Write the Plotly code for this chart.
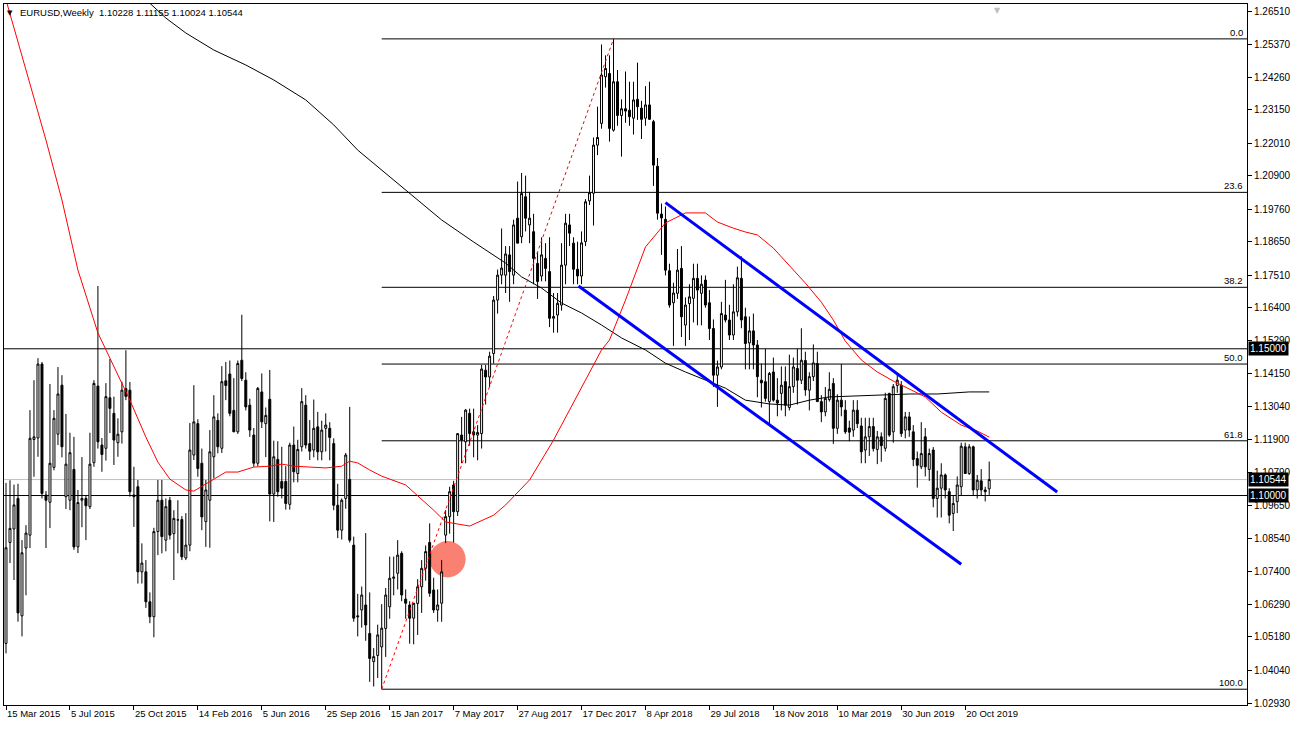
import numpy as np
import pandas as pd
import plotly.graph_objects as go

# ---------------- data ----------------
header_text = "EURUSD,Weekly  1.10228 1.11155 1.10024 1.10544"
first_week = "2015-03-15"

open_ = [1.0496,1.0840,1.0886,1.0990,1.0590,1.0821,1.0865,1.1191,1.1196,1.1448,
 1.1002,1.0977,1.1096,1.1209,1.1376,1.0996,1.0984,1.1089,1.0825,1.0984,
 1.0990,1.0962,1.1112,1.1373,1.1172,1.1161,1.1333,1.1280,1.1180,1.1217,
 1.1364,1.1359,1.1002,1.1030,1.0740,1.0740,1.0638,1.0587,1.0877,1.0984,
 1.0848,1.0984,1.0870,1.0917,1.0918,1.0787,1.0831,1.1138,1.1245,1.1110,
 1.0911,1.0984,1.1132,1.1256,1.1161,1.1391,1.1414,1.1290,1.1217,1.1461,
 1.1393,1.1308,1.1206,1.1110,1.1353,1.1245,1.1328,1.1005,1.1123,1.1048,
 1.1048,1.0970,1.1172,1.1075,1.1166,1.1308,1.1177,1.1155,1.1234,1.1149,
 1.1229,1.1229,1.1177,1.0967,1.0882,1.0990,1.1055,1.0831,1.0590,1.0610,
 1.0627,1.0530,1.0434,1.0455,1.0484,1.0547,1.0621,1.0718,1.0735,1.0803,
 1.0647,1.0627,1.0582,1.0632,1.0689,1.0752,1.0840,1.0678,1.0610,1.0633,
 1.0865,1.0928,1.1036,1.0945,1.1206,1.1183,1.1280,1.1217,1.1206,1.1211,
 1.1427,1.1404,1.1484,1.1666,1.1751,1.1751,1.1820,1.1751,1.1945,1.1882,
 1.2018,1.1922,1.1899,1.1791,1.1748,1.1808,1.1763,1.1604,1.1615,1.1649,
 1.1785,1.1922,1.1860,1.1771,1.1748,1.1865,1.2004,1.2030,1.2194,1.2268,
 1.2427,1.2438,1.2245,1.2410,1.2295,1.2318,1.2313,1.2286,1.2350,1.2320,
 1.2286,1.2331,1.2274,1.2122,1.1959,1.1941,1.1766,1.1657,1.1689,1.1774,
 1.1581,1.1654,1.1672,1.1740,1.1689,1.1734,1.1657,1.1569,1.1410,1.1438,
 1.1615,1.1598,1.1547,1.1626,1.1740,1.1609,1.1520,1.1561,1.1513,1.1393,
 1.1388,1.1320,1.1421,1.1325,1.1348,1.1388,1.1300,1.1371,1.1433,1.1393,
 1.1460,1.1359,1.1405,1.1450,1.1320,1.1285,1.1327,1.1382,1.1229,1.1325,
 1.1291,1.1230,1.1223,1.1291,1.1237,1.1155,1.1200,1.1235,1.1157,1.1200,
 1.1161,1.1348,1.1217,1.1375,1.1376,1.1223,1.1268,1.1217,1.1126,1.1098,
 1.1200,1.1089,1.1155,1.0990,1.1025,1.1070,1.1013,1.0939,1.0979,1.1030,
 1.1166,1.1075,1.1166,1.1019,1.1050,1.1019,1.10228]

high_ = [1.1043,1.1052,1.1037,1.1040,1.0848,1.0899,1.1291,1.1393,1.1468,1.1455,
 1.1015,1.1380,1.1291,1.1438,1.1410,1.1278,1.1214,1.1200,1.1019,1.1131,
 1.1002,1.1214,1.1393,1.1714,1.1196,1.1383,1.1465,1.1337,1.1263,1.1388,
 1.1495,1.1387,1.1098,1.1053,1.0837,1.0780,1.0670,1.0890,1.1053,1.1053,
 1.0990,1.0995,1.0950,1.0984,1.0930,1.0940,1.1247,1.1376,1.1260,1.1160,
 1.1053,1.1223,1.1342,1.1280,1.1441,1.1455,1.1460,1.1400,1.1460,1.1616,
 1.1420,1.1330,1.1230,1.1370,1.1416,1.1300,1.1428,1.1187,1.1185,1.1166,
 1.1100,1.1180,1.1235,1.1190,1.1366,1.1342,1.1257,1.1327,1.1285,1.1255,
 1.1280,1.1250,1.1195,1.1040,1.0990,1.1145,1.1302,1.0860,1.0665,1.0690,
 1.0872,1.0670,1.0480,1.0560,1.0630,1.0685,1.0792,1.0792,1.0848,1.0810,
 1.0680,1.0640,1.0630,1.0715,1.0780,1.0830,1.0905,1.0720,1.0680,1.0780,
 1.0950,1.1030,1.1050,1.1211,1.1268,1.1295,1.1296,1.1296,1.1240,1.1445,
 1.1445,1.1490,1.1680,1.1770,1.1910,1.1850,1.1850,1.1940,1.2070,1.2099,
 1.2090,1.2035,1.1960,1.1830,1.1880,1.1860,1.1880,1.1690,1.1690,1.1860,
 1.1960,1.1960,1.1880,1.1865,1.1900,1.2010,1.2090,1.2220,1.2325,1.2537,
 1.2500,1.2500,1.2556,1.2450,1.2350,1.2445,1.2410,1.2410,1.2475,1.2345,
 1.2395,1.2410,1.2280,1.2150,1.1995,1.1985,1.1790,1.1725,1.1840,1.1850,
 1.1675,1.1720,1.1790,1.1790,1.1750,1.1750,1.1700,1.1600,1.1460,1.1660,
 1.1735,1.1650,1.1720,1.1780,1.1815,1.1640,1.1610,1.1620,1.1530,1.1450,
 1.1500,1.1421,1.1470,1.1400,1.1440,1.1440,1.1480,1.1470,1.1500,1.1570,
 1.1490,1.1420,1.1515,1.1490,1.1342,1.1370,1.1420,1.1400,1.1345,1.1448,
 1.1325,1.1255,1.1325,1.1325,1.1265,1.1265,1.1265,1.1265,1.1220,1.1215,
 1.1350,1.1350,1.1380,1.1412,1.1390,1.1285,1.1285,1.1240,1.1150,1.1250,
 1.1230,1.1160,1.1165,1.1085,1.1110,1.1075,1.1025,1.1000,1.1065,1.1180,
 1.1180,1.1175,1.1170,1.1070,1.1090,1.1030,1.11155]

low_ = [1.0462,1.0770,1.0712,1.0570,1.0520,1.0660,1.0821,1.1064,1.1132,1.0990,
 1.0821,1.0889,1.1086,1.1172,1.1130,1.0954,1.0950,1.0815,1.0804,1.0892,
 1.0848,1.0954,1.1098,1.1160,1.1081,1.1119,1.1213,1.1104,1.1132,1.1177,
 1.1325,1.0996,1.0893,1.0700,1.0700,1.0617,1.0565,1.0517,1.0797,1.0803,
 1.0810,1.0850,1.0712,1.0803,1.0780,1.0780,1.0810,1.1121,1.1064,1.0882,
 1.0825,1.0822,1.1058,1.1144,1.1145,1.1325,1.1270,1.1217,1.1210,1.1390,
 1.1290,1.1200,1.1098,1.1100,1.1230,1.1131,1.0912,1.0910,1.0996,1.0990,
 1.0952,1.0952,1.1045,1.1045,1.1150,1.1160,1.1121,1.1130,1.1120,1.1120,
 1.1150,1.1120,1.0950,1.0855,1.0850,1.0955,1.0840,1.0570,1.0520,1.0550,
 1.0505,1.0365,1.0349,1.0378,1.0340,1.0450,1.0580,1.0660,1.0680,1.0640,
 1.0580,1.0495,1.0493,1.0525,1.0600,1.0710,1.0655,1.0600,1.0570,1.0570,
 1.0838,1.0870,1.0840,1.0930,1.1110,1.1110,1.1170,1.1130,1.1120,1.1160,
 1.1310,1.1370,1.1450,1.1620,1.1720,1.1690,1.1660,1.1720,1.1860,1.1860,
 1.1900,1.1860,1.1720,1.1670,1.1730,1.1730,1.1574,1.1555,1.1555,1.1630,
 1.1720,1.1850,1.1720,1.1720,1.1720,1.1850,1.1990,1.1920,1.2160,1.2250,
 1.2390,1.2206,1.2240,1.2260,1.2155,1.2270,1.2260,1.2230,1.2280,1.2215,
 1.2260,1.2280,1.2055,1.1940,1.1820,1.1750,1.1640,1.1510,1.1670,1.1540,
 1.1510,1.1530,1.1590,1.1580,1.1580,1.1640,1.1530,1.1370,1.1302,1.1430,
 1.1590,1.1530,1.1530,1.1610,1.1570,1.1430,1.1430,1.1430,1.1335,1.1300,
 1.1320,1.1240,1.1320,1.1270,1.1290,1.1270,1.1290,1.1350,1.1310,1.1380,
 1.1340,1.1290,1.1390,1.1320,1.1250,1.1270,1.1320,1.1176,1.1210,1.1270,
 1.1210,1.1185,1.1200,1.1230,1.1110,1.1110,1.1135,1.1150,1.1107,1.1115,
 1.1150,1.1200,1.1180,1.1350,1.1200,1.1195,1.1200,1.1100,1.1027,1.1090,
 1.1065,1.1050,1.0960,1.0925,1.0925,1.0990,1.0905,1.0879,1.0940,1.1000,
 1.1075,1.1070,1.1000,1.0990,1.1000,1.0980,1.10024]

close_ = [1.0822,1.0888,1.0968,1.0600,1.0805,1.0872,1.1195,1.1200,1.1448,1.1007,
 1.0984,1.1110,1.1263,1.1346,1.1166,1.1107,1.1146,1.0825,1.0976,1.0990,
 1.0965,1.1107,1.1382,1.1183,1.1140,1.1337,1.1297,1.1189,1.1209,1.1359,
 1.1338,1.1013,1.0996,1.0740,1.0770,1.0638,1.0587,1.0877,1.0984,1.0860,
 1.0962,1.0865,1.0922,1.0917,1.0791,1.0831,1.1155,1.1251,1.1092,1.0927,
 1.1019,1.1149,1.1268,1.1166,1.1388,1.1375,1.1280,1.1217,1.1450,1.1399,
 1.1302,1.1223,1.1110,1.1365,1.1251,1.1273,1.1005,1.1132,1.1013,1.1025,
 1.0973,1.1172,1.1081,1.1157,1.1320,1.1172,1.1151,1.1229,1.1149,1.1223,
 1.1240,1.1198,1.0967,1.0882,1.0984,1.1138,1.0848,1.0582,1.0587,1.0661,
 1.0559,1.0445,1.0451,1.0525,1.0548,1.0661,1.0718,1.0722,1.0797,1.0661,
 1.0633,1.0582,1.0633,1.0689,1.0752,1.0809,1.0667,1.0610,1.0627,1.0740,
 1.0928,1.1013,1.0945,1.1211,1.1189,1.1291,1.1211,1.1206,1.1215,1.1431,
 1.1404,1.1475,1.1666,1.1751,1.1775,1.1823,1.1763,1.1922,1.1860,1.2029,
 1.1945,1.1945,1.1808,1.1729,1.1820,1.1774,1.1604,1.1610,1.1655,1.1785,
 1.1928,1.1894,1.1771,1.1748,1.1861,1.2001,1.2032,1.2194,1.2220,1.2433,
 1.2455,1.2251,1.2410,1.2295,1.2318,1.2310,1.2291,1.2348,1.2325,1.2282,
 1.2331,1.2282,1.2126,1.1962,1.1946,1.1768,1.1649,1.1690,1.1768,1.1609,
 1.1649,1.1677,1.1740,1.1700,1.1720,1.1649,1.1569,1.1410,1.1438,1.1620,
 1.1598,1.1547,1.1626,1.1742,1.1598,1.1518,1.1561,1.1513,1.1405,1.1384,
 1.1331,1.1416,1.1325,1.1315,1.1376,1.1308,1.1371,1.1438,1.1393,1.1461,
 1.1360,1.1405,1.1452,1.1320,1.1285,1.1331,1.1362,1.1229,1.1325,1.1302,
 1.1217,1.1216,1.1291,1.1245,1.1149,1.1200,1.1235,1.1160,1.1200,1.1170,
 1.1331,1.1206,1.1371,1.1393,1.1211,1.1268,1.1223,1.1123,1.1103,1.1143,
 1.1098,1.1143,1.0990,1.1025,1.1070,1.1019,1.0933,1.0973,1.1036,1.1168,
 1.1075,1.1166,1.1019,1.1052,1.1019,1.1013,1.10544]

# moving averages (week index, price)
red_ma_week = [0,5,10,14,18,23,26,31,35,38,41,45,47,50,55,58,62,66,69,72,80,84,86,88,91,94,
               100,107,110,116,122,125,131,137,143,149,151,155,160,165,170,175,178,182,185,
               188,192,196,200,204,207,210,214,218,222,230,234,239,243,246]
red_ma_val = [1.2689,1.2450,1.2211,1.2007,1.1768,1.1554,1.1468,1.1325,1.1199,1.1114,1.1056,
              1.1019,1.1015,1.1039,1.1080,1.1080,1.1097,1.1100,1.1107,1.1100,1.1094,1.1100,
              1.1117,1.1111,1.1087,1.1066,1.1036,1.0950,1.0910,1.0896,1.0933,1.0968,1.1053,
              1.1189,1.1342,1.1496,1.1530,1.1666,1.1847,1.1929,1.1963,1.1963,1.1932,1.1911,
              1.1898,1.1888,1.1843,1.1785,1.1724,1.1659,1.1598,1.1526,1.1462,1.1421,1.1390,
              1.1336,1.1284,1.1240,1.1220,1.1199]
black_ma_week = [35,40,45,52,60,67,75,82,88,94,101,109,117,125,129,134,139,144,149,154,160,
                 165,170,175,180,185,188,191,196,201,206,211,218,226,233,236,241,246]
black_ma_val = [1.2690,1.2627,1.2576,1.2518,1.2467,1.2416,1.2348,1.2263,1.2177,1.2109,1.2031,
                1.1939,1.1864,1.1792,1.1745,1.1707,1.1656,1.1622,1.1581,1.1537,1.1496,1.1451,
                1.1421,1.1394,1.1366,1.1325,1.1319,1.1312,1.1308,1.1325,1.1336,1.1339,1.1342,
                1.1346,1.1346,1.1349,1.1353,1.1353]

# drawn objects (week index, price)
channel_upper = [(165, 1.1998), (263, 1.1012)]
channel_lower = [(143.25, 1.1714), (239, 1.0766)]
fib_low_week, fib_low = 94, 1.0340
fib_high_week, fib_high = 152, 1.2556
fib_levels = [0.0, 23.6, 38.2, 50.0, 61.8, 100.0]
marker_circle = (110.5, 1.0783)
hlines = [1.15000, 1.10000]
bid_price = 1.10544

y_ticks = [1.26510,1.25370,1.24260,1.23150,1.22010,1.20900,1.19760,1.18650,1.17510,1.16400,
           1.15290,1.14150,1.13040,1.11900,1.10790,1.09650,1.08540,1.07400,1.06290,1.05180,
           1.04040,1.02930]
x_tick_labels = ["15 Mar 2015","5 Jul 2015","25 Oct 2015","14 Feb 2016","5 Jun 2016",
                 "25 Sep 2016","15 Jan 2017","7 May 2017","27 Aug 2017","17 Dec 2017",
                 "8 Apr 2018","29 Jul 2018","18 Nov 2018","10 Mar 2019","30 Jun 2019",
                 "20 Oct 2019"]

# ---------------- helpers ----------------
t0 = pd.Timestamp(first_week)
def wk(w):
    return t0 + pd.to_timedelta(np.asarray(w, dtype=float) * 7, unit="D")

dates = wk(np.arange(len(close_)))
x_start = t0 - pd.Timedelta(days=3.5)
x_end = t0 + pd.Timedelta(days=310.5 * 7)
y_lo, y_hi = 1.02862, 1.26749

FONT = "Liberation Sans"

fig = go.Figure()

fig.add_trace(go.Candlestick(
    x=dates, open=open_, high=high_, low=low_, close=close_,
    increasing=dict(line=dict(color="black", width=1), fillcolor="white"),
    decreasing=dict(line=dict(color="black", width=1), fillcolor="black"),
    whiskerwidth=0, hoverinfo="skip", showlegend=False))

fig.add_trace(go.Scatter(x=wk(black_ma_week), y=black_ma_val, mode="lines",
                         line=dict(color="black", width=1), hoverinfo="skip"))
fig.add_trace(go.Scatter(x=wk(red_ma_week), y=red_ma_val, mode="lines",
                         line=dict(color="red", width=1), hoverinfo="skip"))

for ch in (channel_upper, channel_lower):
    fig.add_trace(go.Scatter(x=wk([p[0] for p in ch]), y=[p[1] for p in ch], mode="lines",
                             line=dict(color="#0000FF", width=3), hoverinfo="skip"))

fig.add_trace(go.Scatter(x=wk([fib_low_week, fib_high_week]), y=[fib_low, fib_high],
                         mode="lines", line=dict(color="red", width=1, dash="dot"),
                         hoverinfo="skip"))

shapes = []
# marker circle (behind candles)
cx, cy = marker_circle
shapes.append(dict(type="circle", xref="x", yref="y", layer="below",
                   x0=wk(cx - 4.5), x1=wk(cx + 4.5), y0=cy - 0.0062, y1=cy + 0.0062,
                   fillcolor="#FA8072", line=dict(width=0)))
# bid line
shapes.append(dict(type="line", xref="paper", yref="y", x0=0, x1=1, y0=bid_price, y1=bid_price,
                   line=dict(color="#C0C0C0", width=1), layer="below"))
for h in hlines:
    shapes.append(dict(type="line", xref="paper", yref="y", x0=0, x1=1, y0=h, y1=h,
                       line=dict(color="black", width=1), layer="below"))
annotations = []
for lvl in fib_levels:
    p = fib_high - lvl / 100.0 * (fib_high - fib_low)
    shapes.append(dict(type="line", xref="x", yref="y", x0=wk(fib_low_week), x1=x_end,
                       y0=p, y1=p, line=dict(color="black", width=1), layer="below"))
    annotations.append(dict(xref="paper", yref="y", x=1, y=p, text=f"{lvl:.1f}",
                            xanchor="right", yanchor="bottom", xshift=-2, yshift=-1,
                            showarrow=False, font=dict(family=FONT, size=9.5, color="black")))

# price boxes on the right axis
for v in hlines + [bid_price]:
    annotations.append(dict(xref="paper", yref="y", x=1, y=v, text=f"{v:.5f}",
                            xanchor="left", yanchor="middle", xshift=1, showarrow=False,
                            bgcolor="black", borderpad=1,
                            font=dict(family=FONT, size=10, color="white")))

# header
annotations.append(dict(xref="paper", yref="paper", x=0, y=1, text="▼", xanchor="left",
                        yanchor="top", xshift=1, yshift=-3, showarrow=False,
                        font=dict(family="DejaVu Sans", size=7, color="black")))
annotations.append(dict(xref="paper", yref="paper", x=0, y=1, text=header_text, xanchor="left",
                        yanchor="top", xshift=14, yshift=-1, showarrow=False,
                        font=dict(family=FONT, size=9.5, color="black")))
# chart-shift marker
annotations.append(dict(xref="paper", yref="paper", x=(997 - 4) / 1243, y=1, text="▼",
                        xanchor="center", yanchor="top", yshift=0, showarrow=False,
                        font=dict(family="DejaVu Sans", size=8, color="#C0C0C0")))

fig.update_layout(
    width=1295, height=729,
    margin=dict(l=4, r=48, t=4, b=24),
    plot_bgcolor="white", paper_bgcolor="white",
    showlegend=False, hovermode=False,
    shapes=shapes, annotations=annotations,
    xaxis=dict(type="date", range=[x_start, x_end], rangeslider=dict(visible=False),
               showgrid=False, zeroline=False, showline=True, linecolor="black", linewidth=1,
               mirror=True, ticks="outside", ticklen=4, tickcolor="black",
               tickvals=pd.to_datetime(x_tick_labels, format="%d %b %Y"),
               ticktext=x_tick_labels, ticklabelposition="outside right",
               tickfont=dict(family=FONT, size=9.5, color="black")),
    yaxis=dict(side="right", range=[y_lo, y_hi], showgrid=False, zeroline=False,
               showline=True, linecolor="black", linewidth=1, mirror=True,
               ticks="outside", ticklen=4, tickcolor="black",
               tickvals=y_ticks, ticktext=[f"{v:.5f}" for v in y_ticks],
               tickfont=dict(family=FONT, size=10, color="black")),
)

fig.write_html("out.html", config={"displayModeBar": False},
               post_script="document.body.style.margin='0';document.body.style.overflow='hidden';")
